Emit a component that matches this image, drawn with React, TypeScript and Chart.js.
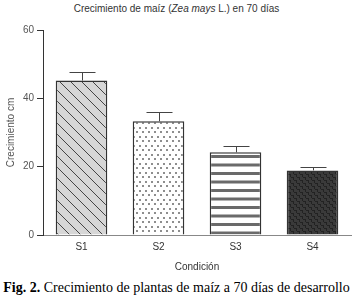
import React, { useEffect, useRef } from "react";
import { Chart, registerables } from "chart.js";

Chart.register(...registerables);

const categories = ["S1", "S2", "S3", "S4"];
const growthValues = [45.2, 33.3, 24.2, 18.9];
const errorValues = [2.6, 2.6, 1.8, 0.9];
const yTicks = [0, 20, 40, 60];

function makePattern(kind: number): CanvasPattern | string {
  const c = document.createElement("canvas");
  const ctx = c.getContext("2d");
  if (!ctx) return "#ccc";
  if (kind === 0) {
    c.width = 11; c.height = 11;
    ctx.fillStyle = "#d6d6d6"; ctx.fillRect(0, 0, 11, 11);
    ctx.strokeStyle = "#444"; ctx.lineWidth = 1;
    ctx.beginPath();
    ctx.moveTo(-1, -1); ctx.lineTo(12, 12);
    ctx.moveTo(-1, 10); ctx.lineTo(1, 12);
    ctx.moveTo(10, -1); ctx.lineTo(12, 1);
    ctx.stroke();
  } else if (kind === 1) {
    c.width = 6; c.height = 9;
    ctx.fillStyle = "#fff"; ctx.fillRect(0, 0, 6, 9);
    ctx.fillStyle = "#8e8e8e";
    ctx.fillRect(1, 1, 2, 2);
    ctx.fillRect(4, 5, 2, 2);
  } else if (kind === 2) {
    c.width = 10; c.height = 17;
    ctx.fillStyle = "#fff"; ctx.fillRect(0, 0, 10, 17);
    ctx.fillStyle = "#6a6a6a";
    ctx.fillRect(0, 2, 10, 3);
    ctx.fillRect(0, 10.5, 10, 3);
  } else {
    c.width = 6; c.height = 6;
    ctx.fillStyle = "#3a3a3a"; ctx.fillRect(0, 0, 6, 6);
    ctx.fillStyle = "#222";
    ctx.fillRect(0, 0, 3, 1);
    ctx.fillRect(3, 3, 3, 1);
    ctx.fillRect(2, 1, 1, 2);
    ctx.fillRect(5, 4, 1, 2);
  }
  const p = ctx.createPattern(c, "repeat");
  return p || "#ccc";
}

const errorBarPlugin = {
  id: "errorBars",
  afterDatasetsDraw(chart: any) {
    const ctx = chart.ctx;
    const meta = chart.getDatasetMeta(0);
    const yScale = chart.scales.y;
    ctx.save();
    ctx.strokeStyle = "#444";
    ctx.lineWidth = 1;
    meta.data.forEach((bar: any, i: number) => {
      const x = Math.round(bar.x) + 0.5;
      const yTop = Math.round(yScale.getPixelForValue(growthValues[i] + errorValues[i])) + 0.5;
      const yBar = bar.y;
      ctx.beginPath();
      ctx.moveTo(x, yBar);
      ctx.lineTo(x, yTop);
      ctx.moveTo(x - 13, yTop);
      ctx.lineTo(x + 13, yTop);
      ctx.stroke();
    });
    ctx.restore();
  },
};

export default function App() {
  const ref = useRef<HTMLCanvasElement | null>(null);

  useEffect(() => {
    document.body.style.margin = "0";
    if (!ref.current) return;
    const patterns = [0, 1, 2, 3].map((k) => makePattern(k));
    const chart = new Chart(ref.current, {
      type: "bar",
      data: {
        labels: categories,
        datasets: [
          {
            data: growthValues,
            backgroundColor: patterns as any,
            borderColor: "#333",
            borderWidth: 1.5,
            categoryPercentage: 1,
            barPercentage: 0.67,
          },
        ],
      },
      options: {
        animation: false,
        responsive: false,
        devicePixelRatio: 1,
        layout: { padding: { top: 30, right: 2, left: 0, bottom: 0 } },
        plugins: { legend: { display: false }, title: { display: false }, tooltip: { enabled: false } },
        scales: {
          x: {
            grid: { display: false, drawTicks: false },
            border: { color: "#888", width: 1 },
            ticks: { color: "#333", padding: 6, font: { family: "Liberation Sans", size: 10 } },
            title: {
              display: true,
              text: "Condición",
              color: "#333",
              font: { family: "Liberation Sans", size: 10 },
              padding: { top: 0, bottom: 5 },
            },
            afterFit: (s: any) => { s.height = 43; },
          },
          y: {
            min: 0,
            max: 60,
            afterBuildTicks: (s: any) => { s.ticks = yTicks.map((v) => ({ value: v })); },
            grid: { drawOnChartArea: false, drawTicks: true, tickLength: 6, color: "#333" },
            border: { color: "#333", width: 1 },
            ticks: { color: "#555", padding: 3, font: { family: "Liberation Sans", size: 10 } },
            title: {
              display: true,
              text: "Crecimiento cm",
              color: "#555",
              font: { family: "Liberation Sans", size: 10 },
              padding: { top: 5, bottom: 0 },
            },
            afterFit: (s: any) => { s.width = 43; },
          },
        },
      },
      plugins: [errorBarPlugin],
    });
    return () => chart.destroy();
  }, []);

  return (
    <div style={{ position: "relative", width: 353, height: 302, background: "#fff" }}>
      <div
        style={{
          position: "absolute", top: 3, left: 0, width: 353, textAlign: "center",
          fontFamily: "'Liberation Sans', Arial, sans-serif", fontSize: 10, lineHeight: "12px", color: "#333",
        }}
      >
        Crecimiento de maíz (<i>Zea mays</i> L.) en 70 días
      </div>
      <canvas ref={ref} width={353} height={278} style={{ position: "absolute", top: 0, left: 0 }} />
      <div
        style={{
          position: "absolute", top: 280, left: 0, width: 353, textAlign: "center",
          fontFamily: "'Liberation Serif', 'Times New Roman', serif", fontSize: 14, lineHeight: "16px", color: "#000",
          whiteSpace: "nowrap",
        }}
      >
        <b>Fig. 2.</b> Crecimiento de plantas de maíz a 70 días de desarrollo
      </div>
    </div>
  );
}
